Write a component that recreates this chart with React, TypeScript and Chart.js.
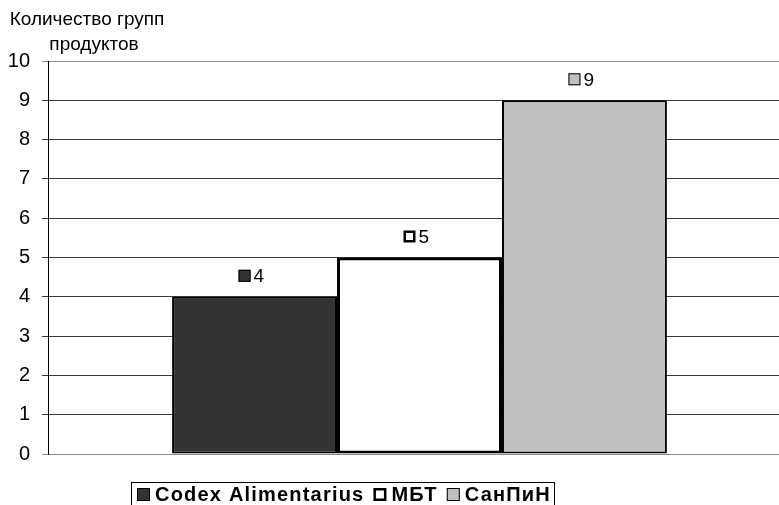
import React, { useEffect, useRef } from "react";
import { Chart, registerables } from "chart.js";

Chart.register(...registerables);

// Series and axis values
const categories = [""];
const seriesNames = ["Codex Alimentarius", "МБТ", "СанПиН"];
const codexValues = [4];
const mbtValues = [5];
const sanpinValues = [9];
const yTickMin = 0;
const yTickMax = 10;
const yTitleLines = ["Количество групп", "продуктов"];

const seriesFill = ["#333333", "#ffffff", "#c0c0c0"];
const seriesBorder = [2, 3, 2];

const FONT = "'Liberation Sans', Arial, sans-serif";

const axisTitlePlugin = {
  id: "axisTitle",
  afterDraw(chart: any) {
    const { ctx } = chart;
    ctx.save();
    ctx.fillStyle = "#000";
    ctx.font = `19px ${FONT}`;
    ctx.textAlign = "center";
    ctx.textBaseline = "middle";
    ctx.fillText(yTitleLines[0], 87, 20);
    ctx.fillText(yTitleLines[1], 94, 45);
    ctx.restore();
  },
};

function drawMarker(ctx: any, x: number, y: number, size: number, fill: string, lw: number) {
  ctx.fillStyle = fill;
  ctx.fillRect(x, y, size, size);
  ctx.strokeStyle = "#000";
  ctx.lineWidth = lw;
  ctx.strokeRect(x + lw / 2, y + lw / 2, size - lw, size - lw);
}

const valueLabelPlugin = {
  id: "valueLabels",
  afterDatasetsDraw(chart: any) {
    const { ctx } = chart;
    ctx.save();
    ctx.font = `19px ${FONT}`;
    ctx.textBaseline = "middle";
    ctx.textAlign = "left";
    chart.data.datasets.forEach((ds: any, i: number) => {
      const meta = chart.getDatasetMeta(i);
      meta.data.forEach((bar: any, j: number) => {
        const cx = bar.x;
        const cy = bar.y - 21;
        drawMarker(ctx, cx - 16, cy - 6, 12, seriesFill[i], i === 1 ? 2.5 : 1);
        ctx.fillStyle = "#000";
        ctx.fillText(String(ds.data[j]), cx - 1, cy + 1);
      });
    });
    ctx.restore();
  },
};

const legendBoxPlugin = {
  id: "legendBox",
  afterDraw(chart: any) {
    const { ctx } = chart;
    ctx.save();
    ctx.font = `bold 20px ${FONT}`;
    (ctx as any).letterSpacing = "1.2px";
    ctx.textBaseline = "middle";
    ctx.textAlign = "left";
    const left = 131;
    const top = 482;
    const markerSize = 13;
    const markerGap = 5;
    const itemGap = 9;
    let total = 6;
    const widths = seriesNames.map((n) => ctx.measureText(n).width);
    widths.forEach((w, i) => {
      total += markerSize + markerGap + w + (i < widths.length - 1 ? itemGap : 0);
    });
    total += 3;
    ctx.strokeStyle = "#000";
    ctx.lineWidth = 1;
    ctx.strokeRect(left + 0.5, top + 0.5, total, 40);
    let x = left + 6;
    const cy = top + 12;
    seriesNames.forEach((name, i) => {
      drawMarker(ctx, x, cy - 6, markerSize, seriesFill[i], i === 1 ? 2.5 : 1);
      x += markerSize + markerGap;
      ctx.fillStyle = "#000";
      ctx.fillText(name, x, cy + 1);
      x += widths[i] + itemGap;
    });
    ctx.restore();
  },
};

export default function App() {
  const canvasRef = useRef<HTMLCanvasElement | null>(null);

  useEffect(() => {
    if (!canvasRef.current) return;
    const values = [codexValues, mbtValues, sanpinValues];
    const chart = new Chart(canvasRef.current, {
      type: "bar",
      data: {
        labels: categories,
        datasets: seriesNames.map((name, i) => ({
          label: name,
          data: values[i],
          backgroundColor: seriesFill[i],
          borderColor: "#000",
          borderWidth: seriesBorder[i],
          borderSkipped: false,
          barPercentage: 1,
          categoryPercentage: 0.666,
        })),
      },
      options: {
        responsive: false,
        animation: false,
        devicePixelRatio: 1,
        layout: { padding: { top: 61, bottom: 51, left: 0, right: 9 } },
        plugins: {
          legend: { display: false },
          tooltip: { enabled: false },
          title: { display: false },
        },
        scales: {
          x: {
            display: false,
          },
          y: {
            min: yTickMin,
            max: yTickMax,
            afterFit(scale: any) {
              scale.width = 48;
            },
            ticks: {
              stepSize: 1,
              color: "#000",
              font: { family: FONT, size: 20 },
              padding: 12,
            },
            grid: {
              color: (c: any) => (c.tick && (c.tick.value === 0 || c.tick.value === 10) ? "#8a8a8a" : "#3a3a3a"),
              lineWidth: 1,
              tickLength: 6,
              drawTicks: true,
            },
            border: { color: "#000", width: 1 },
          },
        },
      },
      plugins: [axisTitlePlugin, valueLabelPlugin, legendBoxPlugin],
    });
    return () => chart.destroy();
  }, []);

  return (
    <div
      style={{
        position: "fixed",
        left: 0,
        top: 0,
        width: 779,
        height: 505,
        overflow: "hidden",
        background: "#fff",
      }}
    >
      <canvas ref={canvasRef} width={800} height={505} style={{ display: "block" }} />
    </div>
  );
}
